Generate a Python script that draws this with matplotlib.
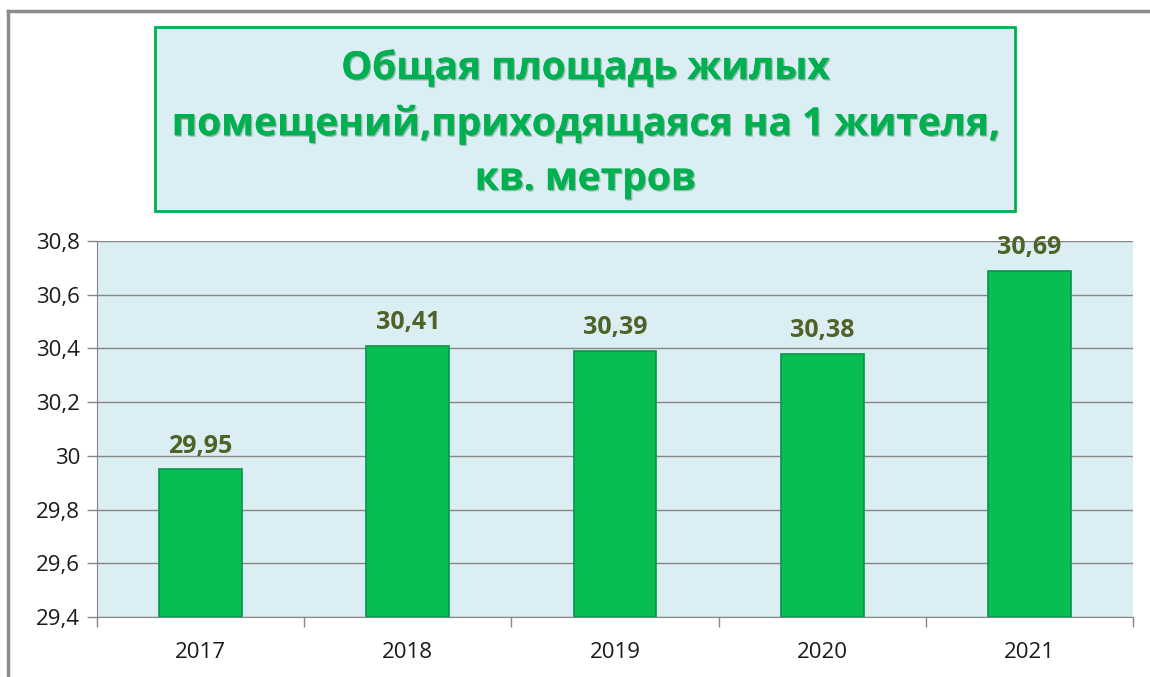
import numpy as np
import matplotlib.pyplot as plt
from matplotlib.patches import Rectangle
from matplotlib.lines import Line2D
import matplotlib.patheffects as pe

plt.rcParams['font.family'] = ['Open Sans', 'DejaVu Sans']

years = ['2017', '2018', '2019', '2020', '2021']
values = [29.95, 30.41, 30.39, 30.38, 30.69]
yticks = [29.4, 29.6, 29.8, 30.0, 30.2, 30.4, 30.6, 30.8]
title = 'Общая площадь жилых\nпомещений,приходящаяся на 1 жителя,\nкв. метров'

fig = plt.figure(figsize=(11.5, 6.77), dpi=100)

# outer frame (only top and left visible in the source)
fig.add_artist(Line2D([8/1150, 1], [1 - 11/677, 1 - 11/677], color='#8c8c8c', lw=2.5, transform=fig.transFigure))
fig.add_artist(Line2D([8/1150, 8/1150], [0, 1 - 11/677], color='#8c8c8c', lw=2.5, transform=fig.transFigure))

# title box
fig.add_artist(Rectangle((155/1150, 1 - 211/677), 860/1150, 184/677, transform=fig.transFigure,
                         facecolor='#daeef3', edgecolor='#00b050', lw=2))
fig.text(585/1150, 1 - 124/677, title, ha='center', va='center', fontsize=28, fontweight='bold',
         color='#00b050', linespacing=1.52,
         path_effects=[pe.withSimplePatchShadow(offset=(1, -1), shadow_rgbFace='#1d5e33', alpha=0.35), pe.Normal()])

ax = fig.add_axes([97/1150, 60/677, 1036/1150, 376/677])
ax.set_facecolor('#daeef3')

x = np.arange(len(years))
bars = ax.bar(x, [v - 29.4 for v in values], bottom=29.4, width=0.4, color='#08bd52',
              edgecolor='#06964a', linewidth=1.2, zorder=3)

for xi, v in zip(x, values):
    ax.text(xi, v + 0.04, f'{v:.2f}'.replace('.', ','), ha='center', va='bottom',
            fontsize=18, fontweight='bold', color='#4f6228', zorder=4)

ax.set_xlim(-0.5, len(years) - 0.5)
ax.set_ylim(29.4, 30.8)
ax.set_yticks(yticks)
ax.set_yticklabels([f'{v:g}'.replace('.', ',') for v in yticks])
ax.set_xticks(x)
ax.set_xticklabels(years)
ax.set_xticks(np.arange(-0.5, len(years)), minor=True)
ax.tick_params(axis='x', which='major', length=0, pad=18, labelsize=16, labelcolor='#1a1a1a')
ax.tick_params(axis='x', which='minor', length=7, color='#868686', width=1)
ax.tick_params(axis='y', length=7, color='#868686', width=1, pad=5, labelsize=16, labelcolor='#1a1a1a')

ax.grid(axis='y', color='#868686', lw=1, zorder=1)
ax.set_axisbelow(True)
for s in ['top', 'right']:
    ax.spines[s].set_visible(False)
for s in ['left', 'bottom']:
    ax.spines[s].set_color('#868686')

fig.savefig('out.png', dpi=100)
